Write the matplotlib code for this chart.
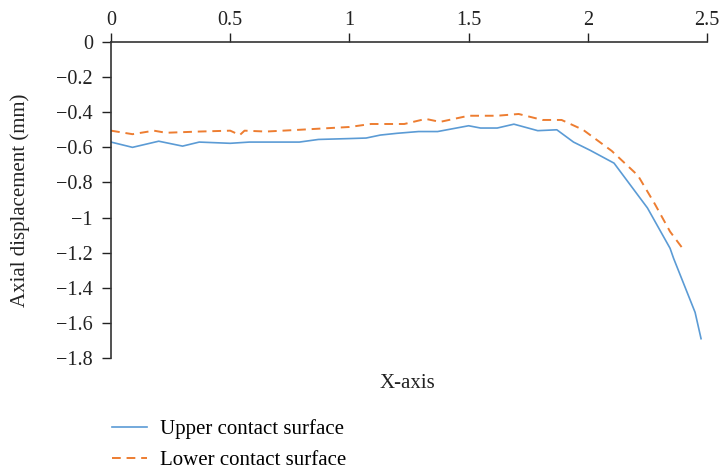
import matplotlib
matplotlib.use("Agg")
import matplotlib.pyplot as plt

plt.rcParams['font.family'] = ['Liberation Serif', 'DejaVu Serif']

# upper contact surface
x_up = [0.0, 0.09, 0.2, 0.3, 0.37, 0.5, 0.58, 0.79, 0.87, 1.0, 1.07, 1.13,
        1.2, 1.29, 1.37, 1.5, 1.55, 1.62, 1.69, 1.79, 1.87, 1.94, 2.01, 2.11,
        2.25, 2.345, 2.36, 2.45, 2.475]
y_up = [-0.57, -0.6, -0.565, -0.593, -0.57, -0.577, -0.57, -0.57, -0.555,
        -0.55, -0.547, -0.53, -0.52, -0.51, -0.51, -0.477, -0.49, -0.49,
        -0.468, -0.505, -0.50, -0.57, -0.617, -0.69, -0.945, -1.175, -1.233,
        -1.54, -1.69]

# lower contact surface
x_lo = [0.0, 0.09, 0.18, 0.23, 0.37, 0.5, 0.54, 0.56, 0.65, 0.79, 0.92,
        1.0, 1.09, 1.23, 1.32, 1.38, 1.5, 1.62, 1.71, 1.81, 1.89, 1.98, 2.1,
        2.21, 2.28, 2.345, 2.40]
y_lo = [-0.505, -0.525, -0.505, -0.517, -0.51, -0.505, -0.53, -0.505, -0.51,
        -0.5, -0.49, -0.484, -0.467, -0.467, -0.438, -0.455, -0.42, -0.42,
        -0.41, -0.444, -0.444, -0.5, -0.62, -0.76, -0.92, -1.08, -1.18]

xticks = [0, 0.5, 1, 1.5, 2, 2.5]
xtick_labels = ['0', '0.5', '1', '1.5', '2', '2.5']
yticks = [0, -0.2, -0.4, -0.6, -0.8, -1, -1.2, -1.4, -1.6, -1.8]
ytick_labels = ['0', '\u22120.2', '\u22120.4', '\u22120.6', '\u22120.8',
                '\u22121', '\u22121.2', '\u22121.4', '\u22121.6', '\u22121.8']

fs = 14.5
fs_lab = 15

fig = plt.figure(figsize=(7.21, 4.71), dpi=100)
ax = fig.add_axes([0.1540, 0.2399, 0.8266, 0.6709])

ax.plot(x_up, y_up, color='#5B9BD5', lw=1.2, label='Upper contact surface')
ax.plot(x_lo, y_lo, color='#ED7D31', lw=1.4, ls=(0, (4.5, 3)),
        label='Lower contact surface')

ax.set_xlim(0, 2.5)
ax.set_ylim(-1.8, 0)
ax.set_xticks(xticks)
ax.set_xticklabels(xtick_labels)
ax.set_yticks(yticks)
ax.set_yticklabels(ytick_labels)
ax.xaxis.tick_top()
for s in ['right', 'bottom']:
    ax.spines[s].set_visible(False)
for s in ['top', 'left']:
    ax.spines[s].set_color('#333333')
    ax.spines[s].set_linewidth(1.2)
ax.tick_params(axis='both', direction='out', length=6.5, width=1.0,
               colors='#222222', labelsize=fs)
ax.tick_params(axis='y', pad=6.5)
ax.tick_params(axis='x', pad=2.5)

ax.set_ylabel('Axial displacement (mm)', fontsize=fs_lab, color='#222222',
              labelpad=19)
fig.text(407 / 721, 1 - 383 / 471, 'X-axis', fontsize=fs_lab,
         color='#222222', ha='center', va='center')

fig.legend(loc='upper left', bbox_to_anchor=(112 / 721, 1 - 419 / 471),
           frameon=False, fontsize=fs_lab, handlelength=1.7,
           handletextpad=0.6, labelspacing=0.55, borderpad=0,
           borderaxespad=0)

fig.savefig('out.png', dpi=100)
